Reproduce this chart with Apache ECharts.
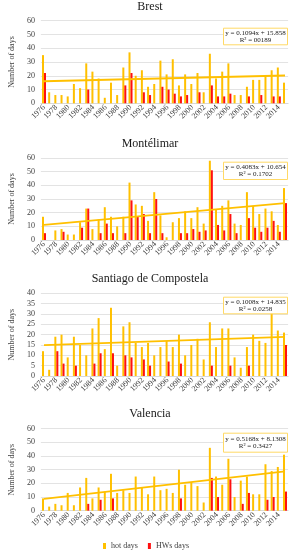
<!DOCTYPE html>
<html><head><meta charset="utf-8">
<script src="https://cdn.jsdelivr.net/npm/echarts@6/dist/echarts.min.js"></script>
<style>html,body{margin:0;padding:0;background:#fff}#c{width:292px;height:550px}</style>
</head><body><div id="c"></div>
<script>
const years = ['1976','1977','1978','1979','1980','1981','1982','1983','1984','1985','1986','1987','1988','1989','1990','1991','1992','1993','1994','1995','1996','1997','1998','1999','2000','2001','2002','2003','2004','2005','2006','2007','2008','2009','2010','2011','2012','2013','2014','2015'];
const titles = ['Brest','Montélimar','Santiago de Compostela','Valencia'];
const brestHot = [35,8,6,6,5,14,11,29,23,18,4,15,6,26,37,20,24,12,14,31,21,32,13,21,14,22,8,36,18,23,29,6,6,12,17,17,20,24,26,15];
const brestHW  = [22,0,0,0,0,0,0,10,0,0,0,0,0,13,22,0,8,6,0,12,10,7,5,6,0,8,0,13,5,5,7,0,0,5,0,6,0,5,5,0];
const montHot  = [17,0,7,8,4,4,13,23,8,15,24,17,10,17,42,26,25,14,35,18,2,13,16,21,16,24,12,58,22,25,29,12,11,35,25,19,23,21,11,38];
const montHW   = [5,0,0,6,0,0,9,23,0,5,12,5,0,5,29,17,19,5,30,5,0,0,5,5,8,6,7,51,11,7,19,5,0,16,9,6,9,14,6,27];
const santHot  = [12,3,19,20,9,19,15,10,23,28,13,33,5,24,26,16,14,16,10,14,17,14,20,10,15,18,8,26,14,23,23,9,4,14,20,17,16,36,22,21];
const santHW   = [0,0,12,6,0,5,0,0,6,11,0,11,0,10,9,0,8,5,0,0,7,0,6,0,0,0,0,5,0,0,5,0,0,5,0,0,0,0,0,15];
const valHot   = [9,3,5,4,13,4,17,24,9,17,14,27,13,15,13,25,17,12,25,15,16,13,30,19,21,18,6,46,25,19,38,10,22,25,12,12,34,29,32,41];
const valHW    = [0,0,0,0,0,0,0,5,0,8,0,9,0,0,0,0,0,0,0,0,0,0,9,0,0,0,0,24,10,0,23,0,5,13,0,0,8,10,0,14];
// trend line end values (first and last year)
const brestTrend = [16.0, 20.2];
const montTrend  = [11.1, 27.0];
const santTrend  = [14.9, 18.9];
const valTrend   = [8.6, 28.8];
const equations = ['y = 0.1094x + 15.858','y = 0.4083x + 10.654','y = 0.1008x + 14.835','y = 0.5168x + 8.1308'];
const r2Texts   = ['R² = 00189','R² = 0.1702','R² = 0.0258','R² = 0.3427'];
const yMax = [60, 60, 40, 60];
const yInterval = [10, 10, 5, 10];

const hotSeries = [brestHot, montHot, santHot, valHot];
const hwSeries = [brestHW, montHW, santHW, valHW];
const trends = [brestTrend, montTrend, santTrend, valTrend];

// layout
const gridTops = [20.7, 158, 293.3, 428.7];
const gridHeights = [82.6, 82, 82.7, 82];
const titleTops = [0.5, 137.5, 272.8, 407.5];
const boxTops = [27.7, 161.7, 296.7, 432.7];
const boxHeights = [16.6, 17.3, 16.6, 19];
const FONT = '"Liberation Serif", "DejaVu Serif", serif';
const HOT = '#FFC000', HW = '#FF1010';

const option = {
  animation: false,
  backgroundColor: '#fff',
  textStyle: {fontFamily: FONT},
  title: [], grid: [], xAxis: [], yAxis: [], series: [], graphic: [],
  legend: {
    data: ['hot days','HWs days'], left: 'center', top: 537,
    itemWidth: 3, itemHeight: 6, itemGap: 10, icon: 'rect',
    textStyle: {fontFamily: FONT, fontSize: 8, color: '#404040'}
  }
};

for (let i = 0; i < 4; i++) {
  option.title.push({text: titles[i], left: 150, top: titleTops[i], textAlign: 'center', padding: 0,
    textStyle: {fontFamily: FONT, fontSize: 12, fontWeight: 'normal', color: '#1a1a1a'}});
  option.grid.push({left: 33.3, width: 254.8, top: gridTops[i], height: gridHeights[i]});
  option.xAxis.push({type: 'category', gridIndex: i, data: years,
    axisLine: {lineStyle: {color: '#d9d9d9'}}, axisTick: {show: false},
    axisLabel: {interval: 1, rotate: 45, fontSize: 8, margin: 3, color: '#404040', fontFamily: FONT,
      showMinLabel: true}});
  option.yAxis.push({type: 'value', gridIndex: i, min: 0, max: yMax[i], interval: yInterval[i],
    name: 'Number of days', nameLocation: 'middle', nameGap: 24,
    nameTextStyle: {fontFamily: FONT, fontSize: 8, color: '#404040'},
    axisLine: {show: false}, axisTick: {show: false},
    splitLine: {lineStyle: {color: '#e3e3e3', width: 1}},
    axisLabel: {fontSize: 8, margin: 6, color: '#404040', fontFamily: FONT}});
  option.series.push({name: 'hot days', type: 'bar', xAxisIndex: i, yAxisIndex: i, data: hotSeries[i],
    barWidth: 2, barGap: '0%', itemStyle: {color: HOT}});
  option.series.push({name: 'HWs days', type: 'bar', xAxisIndex: i, yAxisIndex: i, data: hwSeries[i],
    barWidth: 2, barGap: '0%', itemStyle: {color: HW}});
  const tdata = years.map(() => null);
  tdata[0] = trends[i][0]; tdata[years.length - 1] = trends[i][1];
  option.series.push({name: 'trend', type: 'line', xAxisIndex: i, yAxisIndex: i, data: tdata,
    connectNulls: true, showSymbol: false, symbol: 'none', z: 5,
    lineStyle: {color: HOT, width: 1.8}});
  option.graphic.push({type: 'group', left: 223, top: boxTops[i], children: [
    {type: 'rect', shape: {x: 0, y: 0, width: 64, height: boxHeights[i]},
      style: {fill: '#fff', stroke: '#FFD966', lineWidth: 1}, z: 10},
    {type: 'text', x: 32, y: boxHeights[i] / 2 - 3.8, z: 11,
      style: {text: equations[i], fontFamily: FONT, fontSize: 7, fill: '#1a1a1a', textAlign: 'center', textVerticalAlign: 'middle'}},
    {type: 'text', x: 32, y: boxHeights[i] / 2 + 3.6, z: 11,
      style: {text: r2Texts[i], fontFamily: FONT, fontSize: 7, fill: '#1a1a1a', textAlign: 'center', textVerticalAlign: 'middle'}}
  ]});
}

const chart = echarts.init(document.getElementById('c'), null, {renderer: 'canvas'});
chart.setOption(option);
</script>
</body></html>
